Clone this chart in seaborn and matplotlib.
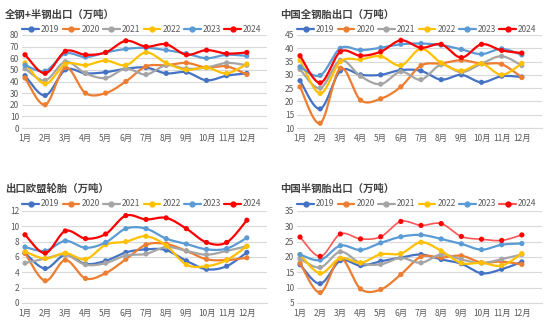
import numpy as np
import pandas as pd
import matplotlib
matplotlib.use("Agg")
import matplotlib.pyplot as plt
import seaborn as sns
from matplotlib.lines import Line2D

sns.set_theme(style="white")
plt.rcParams['font.family'] = ['Noto Sans CJK SC', 'DejaVu Sans']

months = [f"{i}月" for i in range(1, 13)]
years = ["2019", "2020", "2021", "2022", "2023", "2024"]
colors = ["#4472C4", "#ED7D31", "#A5A5A5", "#FFC000", "#5B9BD5", "#FF0000"]

# 全钢+半钢出口
total_2019 = [45, 28, 50, 47, 48, 51, 52, 47, 48, 41, 45, 47]
total_2020 = [43, 20, 52, 30, 30, 40, 53, 54, 56, 52, 53, 46]
total_2021 = [51, 41, 57, 47, 43, 51, 46, 54, 51, 52, 56, 54]
total_2022 = [56, 38, 55, 54, 58, 54, 65, 56, 50, 52, 47, 55]
total_2023 = [54, 49, 64, 61, 65, 68, 69, 67, 64, 60, 63, 62]
total_2024 = [63, 47, 66, 63, 65, 75, 70, 72, 63, 67, 64, 65]

# 中国全钢胎出口
truck_2019 = [27.8, 17.2, 31.5, 30.0, 30.0, 31.8, 31.5, 28.2, 30.0, 27.2, 29.5, 29.2]
truck_2020 = [25.5, 11.8, 32.5, 20.5, 21.0, 25.5, 33.5, 34.3, 35.5, 34.2, 34.0, 29.0]
truck_2021 = [32.0, 25.0, 35.5, 29.5, 26.5, 31.2, 28.2, 33.8, 31.0, 34.2, 37.0, 33.5]
truck_2022 = [35.5, 23.0, 35.0, 35.8, 37.0, 33.5, 39.8, 34.5, 31.5, 34.2, 30.0, 34.3]
truck_2023 = [33.0, 29.8, 40.0, 39.3, 40.2, 41.5, 41.8, 41.2, 39.6, 37.8, 39.8, 37.5]
truck_2024 = [37.2, 27.0, 38.7, 37.2, 38.7, 43.0, 40.2, 41.5, 36.5, 41.5, 39.2, 38.2]

# 出口欧盟轮胎
eu_2019 = [6.5, 4.5, 6.3, 5.1, 5.5, 6.6, 7.0, 6.9, 5.5, 4.4, 4.8, 6.6]
eu_2020 = [6.5, 2.9, 5.6, 3.2, 3.9, 5.7, 7.6, 7.7, 6.8, 5.7, 5.6, 5.9]
eu_2021 = [5.2, 5.8, 6.3, 5.0, 5.2, 6.2, 6.4, 7.3, 6.8, 6.3, 6.8, 7.4]
eu_2022 = [6.7, 5.8, 6.5, 5.7, 7.6, 8.0, 8.7, 7.5, 5.0, 4.8, 5.6, 7.4]
eu_2023 = [7.3, 6.8, 8.1, 7.2, 7.9, 9.7, 9.7, 8.4, 7.7, 7.0, 7.1, 8.5]
eu_2024 = [8.9, 6.5, 9.4, 8.4, 9.0, 11.4, 10.9, 11.1, 9.7, 7.9, 7.9, 10.8]

# 中国半钢胎出口
car_2019 = [17.5, 11.3, 18.8, 17.2, 18.6, 19.8, 20.8, 19.2, 17.8, 14.7, 16.0, 18.4]
car_2020 = [18.0, 8.4, 19.5, 9.6, 9.4, 14.3, 20.1, 19.8, 20.4, 18.2, 18.5, 17.6]
car_2021 = [19.4, 16.6, 21.7, 18.0, 17.6, 19.7, 18.1, 20.8, 19.2, 18.0, 19.3, 20.8]
car_2022 = [20.8, 14.7, 19.6, 18.1, 20.9, 21.1, 24.8, 22.0, 18.0, 18.1, 17.2, 21.1]
car_2023 = [20.8, 19.0, 23.7, 22.3, 24.6, 26.6, 27.2, 25.9, 24.3, 22.4, 24.0, 24.4]
car_2024 = [26.5, 20.2, 27.5, 25.9, 26.6, 31.6, 30.3, 30.9, 26.7, 25.8, 25.4, 27.2]

panels = [
    ("全钢+半钢出口（万吨）", [total_2019, total_2020, total_2021, total_2022, total_2023, total_2024], (0, 80), 10),
    ("中国全钢胎出口（万吨）", [truck_2019, truck_2020, truck_2021, truck_2022, truck_2023, truck_2024], (10, 45), 5),
    ("出口欧盟轮胎（万吨）", [eu_2019, eu_2020, eu_2021, eu_2022, eu_2023, eu_2024], (0, 12), 2),
    ("中国半钢胎出口（万吨）", [car_2019, car_2020, car_2021, car_2022, car_2023, car_2024], (5, 35), 5),
]

W, H = 550, 325
rects = [
    (22 / W, 1 - 128 / H, 245 / W, 93 / H),
    (297 / W, 1 - 128 / H, 245 / W, 93 / H),
    (22 / W, 1 - 303 / H, 245 / W, 92 / H),
    (297 / W, 1 - 303 / H, 245 / W, 92 / H),
]
title_pos = [(5 / W, 1 - 15 / H), (280 / W, 1 - 15 / H), (5 / W, 1 - 189 / H), (280 / W, 1 - 189 / H)]
legend_y = [1 - 29 / H, 1 - 29 / H, 1 - 204 / H, 1 - 204 / H]


def smooth(y, n=16):
    x = np.arange(len(y), dtype=float)
    pts = np.column_stack([x, np.asarray(y, dtype=float)])
    p = np.vstack([pts[0], pts, pts[-1]])
    out = []
    t = np.linspace(0, 1, n, endpoint=False)[:, None]
    for i in range(len(pts) - 1):
        p0, p1, p2, p3 = p[i], p[i + 1], p[i + 2], p[i + 3]
        seg = 0.5 * ((2 * p1) + (-p0 + p2) * t + (2 * p0 - 5 * p1 + 4 * p2 - p3) * t ** 2
                     + (-p0 + 3 * p1 - 3 * p2 + p3) * t ** 3)
        out.append(seg)
    out.append(pts[-1:])
    return np.vstack(out)


fig = plt.figure(figsize=(5.5, 3.25), dpi=100)
fig.patch.set_facecolor("white")

for k, (title, series, ylim, step) in enumerate(panels):
    ax = fig.add_axes(rects[k])
    for j, (yr, vals) in enumerate(zip(years, series)):
        col = colors[j]
        lcol = col
        lw = 1.6
        if k == 3 and yr == "2024":
            lcol = "#FF5555"
            lw = 1.2
        sm = smooth(vals)
        df_s = pd.DataFrame({"x": sm[:, 0], "y": sm[:, 1]})
        sns.lineplot(data=df_s, x="x", y="y", sort=False, estimator=None, color=lcol,
                     lw=lw, ax=ax, zorder=2 + j)
        df_p = pd.DataFrame({"x": np.arange(12), "y": vals})
        sns.scatterplot(data=df_p, x="x", y="y", color=col, s=14, edgecolor="none",
                        ax=ax, zorder=3 + j, legend=False)
    ax.set_xlim(-0.15, 12.0)
    ax.set_ylim(*ylim)
    ax.set_yticks(np.arange(ylim[0], ylim[1] + 0.01, step))
    ax.set_xticks(np.arange(12))
    ax.set_xticklabels(months)
    ax.set_xlabel("")
    ax.set_ylabel("")
    ax.grid(axis="y", color="#D9D9D9", lw=0.8)
    ax.set_axisbelow(True)
    for s in ["top", "right", "left"]:
        ax.spines[s].set_visible(False)
    ax.spines["bottom"].set_color("#D9D9D9")
    ax.spines["bottom"].set_linewidth(0.8)
    ax.tick_params(axis="y", length=0, labelsize=6, colors="#595959", pad=2)
    ax.tick_params(axis="x", length=0, labelsize=6, colors="#595959", pad=4)
    ax.set_facecolor("white")

    fig.text(title_pos[k][0], title_pos[k][1], title, fontsize=7.5, fontweight="bold",
             color="#404040", ha="left", va="center")

    handles = []
    for j, yr in enumerate(years):
        lc = colors[j]
        if k == 3 and yr == "2024":
            lc = "#FF5555"
        handles.append(Line2D([0], [0], color=lc, lw=1.6, marker="o", markersize=3.5,
                              markerfacecolor=colors[j], markeredgecolor=colors[j]))
    cx = rects[k][0] + 120 / W
    fig.legend(handles, years, loc="center", bbox_to_anchor=(cx, legend_y[k]), ncol=6,
               frameon=False, fontsize=6, handlelength=2.0, handletextpad=0.25,
               columnspacing=0.4, labelcolor="#595959", borderaxespad=0, borderpad=0)

fig.savefig("out.png", dpi=100, facecolor="white")
